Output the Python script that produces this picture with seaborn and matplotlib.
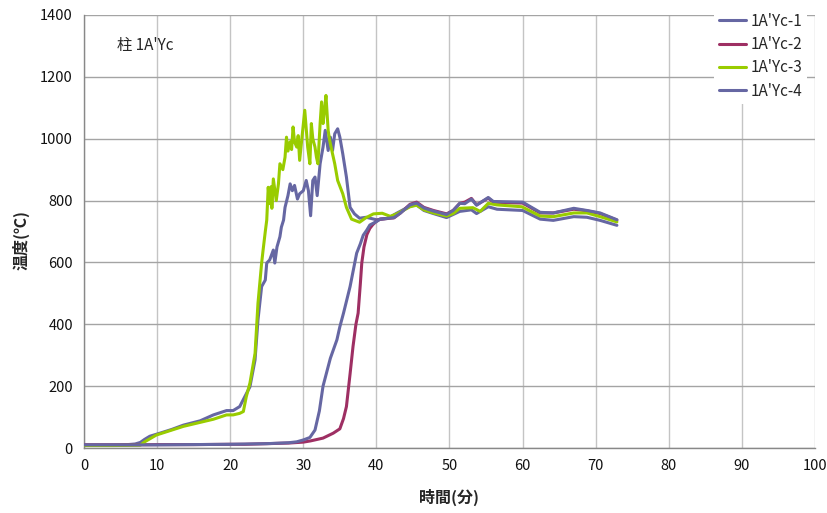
import matplotlib
matplotlib.use("Agg")
import matplotlib.pyplot as plt
import pandas as pd
import seaborn as sns

# ── Data (time in min, temperature in °C) ─────────────────────────────────────

series_names = ["1A'Yc-1", "1A'Yc-2", "1A'Yc-3", "1A'Yc-4"]
series_colors = ["#6667a3", "#9e2f63", "#99cc00", "#6667a3"]

yc1 = [(0, 10), (2, 10), (4, 10), (6, 11), (7, 13), (7.7, 18), (8.3, 28), (9.0, 38),
       (10.4, 48), (12, 60), (13.6, 74), (15.9, 88), (17.7, 107), (19.5, 121),
       (20.4, 121), (21.3, 134), (22.0, 166), (22.7, 198), (23.4, 285), (23.8, 414),
       (24.3, 522), (24.8, 543), (25.0, 598), (25.4, 608), (25.9, 640), (26.1, 598),
       (26.4, 650), (26.8, 683), (27.0, 714), (27.3, 737), (27.5, 778), (27.9, 816),
       (28.2, 854), (28.5, 832), (28.8, 849), (29.2, 805), (29.5, 822), (30.0, 832),
       (30.4, 865), (30.7, 832), (31.0, 751), (31.3, 865), (31.6, 876), (31.9, 816),
       (32.3, 919), (32.7, 973), (33.0, 1027), (33.4, 962), (33.7, 1005), (34.0, 962),
       (34.3, 1016), (34.7, 1032), (35.0, 1005), (35.4, 951), (35.9, 876), (36.4, 778),
       (37.0, 757), (37.7, 743), (38.6, 746), (40.0, 738), (41.5, 742), (43.0, 762),
       (44.6, 782), (45.5, 786), (46.5, 768), (47.8, 758), (49.6, 745), (50.5, 755),
       (51.4, 765), (53.0, 770), (53.7, 758), (55.3, 780), (56.5, 772), (60.0, 768),
       (62.4, 740), (64.2, 736), (67.0, 748), (68.8, 746), (70.6, 736), (72.9, 720)]

yc2 = [(0, 10), (5, 10), (10, 11), (15, 11), (20, 12), (22, 12), (25, 14), (28, 16),
       (30, 19), (31, 23), (32.7, 32), (34.1, 48), (35.0, 62), (35.5, 95), (35.9, 134),
       (36.4, 240), (36.8, 328), (37.2, 400), (37.5, 436), (37.8, 530), (38.0, 598),
       (38.3, 650), (38.7, 690), (39.1, 710), (39.5, 722), (40.0, 733), (40.5, 740),
       (42.4, 744), (43.3, 760), (44.6, 788), (45.5, 795), (46.5, 778), (47.8, 768),
       (49.6, 757), (50.5, 768), (51.4, 791), (52.1, 795), (53.0, 807), (53.7, 786),
       (55.3, 808), (56.0, 795), (58.0, 793), (60.0, 792), (62.4, 760), (64.2, 760),
       (67.0, 772), (68.8, 767), (70.6, 758), (72.9, 737)]

yc3 = [(0, 8), (4, 8), (7.7, 9), (8.3, 20), (9.9, 42), (13.6, 70), (16.8, 88),
       (17.7, 93), (19.5, 107), (20.4, 107), (21.3, 112), (21.8, 118), (22.2, 166),
       (22.7, 210), (23.4, 306), (23.8, 468), (24.3, 598), (24.5, 640), (24.8, 700),
       (25.0, 737), (25.2, 843), (25.4, 790), (25.6, 845), (25.7, 775), (25.9, 870),
       (26.3, 800), (26.6, 854), (26.8, 919), (27.2, 900), (27.5, 940), (27.7, 1005),
       (27.9, 960), (28.2, 990), (28.4, 965), (28.6, 1038), (28.8, 990), (29.1, 973),
       (29.3, 1010), (29.5, 930), (29.8, 1000), (30.2, 1092), (30.6, 973), (30.9, 919),
       (31.1, 1049), (31.3, 1000), (31.6, 973), (31.8, 940), (32.0, 919), (32.3, 1049),
       (32.5, 1119), (32.7, 1049), (32.9, 1092), (33.1, 1140), (33.4, 1027), (33.6, 995),
       (34.0, 951), (34.3, 919), (34.7, 865), (35.4, 822), (35.9, 778), (36.6, 740),
       (37.7, 730), (38.6, 745), (39.6, 757), (40.8, 759), (41.9, 749), (42.8, 757),
       (44.6, 780), (45.5, 785), (46.5, 770), (47.8, 760), (49.6, 750), (50.5, 758),
       (51.4, 775), (53.2, 777), (54.2, 765), (55.3, 791), (56.5, 786), (59.9, 780),
       (62.4, 750), (64.2, 748), (67.0, 760), (68.8, 760), (70.6, 748), (72.9, 731)]

yc4 = [(0, 10), (5, 10), (10, 10), (15, 11), (20, 12), (25, 14), (28, 17), (29.1, 20),
       (30.0, 26), (30.9, 34), (31.6, 58), (32.2, 120), (32.7, 200), (33.7, 290),
       (34.6, 350), (35.0, 392), (35.5, 436), (36.4, 522), (37.3, 630), (37.8, 660),
       (38.2, 688), (38.7, 705), (39.1, 721), (40.0, 732), (40.5, 740), (42.4, 745),
       (43.3, 760), (44.6, 786), (45.5, 792), (46.5, 776), (47.8, 766), (49.6, 755),
       (50.5, 768), (51.4, 791), (52.1, 790), (53.0, 805), (53.7, 785), (55.3, 810),
       (56.0, 797), (58.0, 796), (60.0, 795), (62.4, 762), (64.2, 760), (67.0, 775),
       (68.8, 768), (70.6, 760), (72.9, 738)]

x_ticks = list(range(0, 101, 10))
y_ticks = list(range(0, 1401, 200))

# ── Build long-form frame ─────────────────────────────────────────────────────

rows = []
for name, pts in zip(series_names, [yc1, yc2, yc3, yc4]):
    for t, temp in pts:
        rows.append({"time": t, "temp": temp, "series": name})
df = pd.DataFrame(rows)

# ── Plot ──────────────────────────────────────────────────────────────────────

sns.set_style("white")
plt.rcParams["font.family"] = ["Noto Sans CJK JP", "DejaVu Sans"]

fig = plt.figure(figsize=(8.28, 5.13), dpi=100)
ax = fig.add_axes([84 / 828, 1 - 448 / 513, (815 - 84) / 828, (448 - 15) / 513])

sns.lineplot(data=df, x="time", y="temp", hue="series", hue_order=series_names,
             palette=dict(zip(series_names, series_colors)), estimator=None,
             sort=False, linewidth=2.2, ax=ax, zorder=3)

ax.set_xlim(0, 100)
ax.set_ylim(0, 1400)
ax.set_xticks(x_ticks)
ax.set_yticks(y_ticks)
ax.tick_params(axis="both", labelsize=10.5, length=4, color="#888888",
               labelcolor="#111111", pad=4)
ax.xaxis.grid(True, color="#c4c4c4", linewidth=1.0)
ax.yaxis.grid(True, color="#a4a4a4", linewidth=1.0)
ax.set_axisbelow(True)
for side in ["top", "right"]:
    ax.spines[side].set_visible(False)
for side in ["left", "bottom"]:
    ax.spines[side].set_color("#888888")
    ax.spines[side].set_linewidth(1.0)

ax.set_xlabel("時間(分)", fontsize=11.5, fontweight="bold", labelpad=11)
ax.set_ylabel("温度(℃)", fontsize=11.5, fontweight="bold")
ax.yaxis.set_label_coords(-0.074, 0.48)
ax.text(4.5, 1303, "柱 1A'Yc", fontsize=11, va="center", ha="left")

leg = ax.legend(loc="upper left", bbox_to_anchor=(714 / 828, 1 - 8 / 513),
                bbox_transform=fig.transFigure, frameon=True, fontsize=11,
                handlelength=1.8, handletextpad=0.3, labelspacing=0.42,
                borderpad=0.3, borderaxespad=0)
leg.get_frame().set_facecolor("white")
leg.get_frame().set_edgecolor("none")
leg.get_frame().set_alpha(1)
leg.set_zorder(5)

fig.savefig("out.png", dpi=100)
